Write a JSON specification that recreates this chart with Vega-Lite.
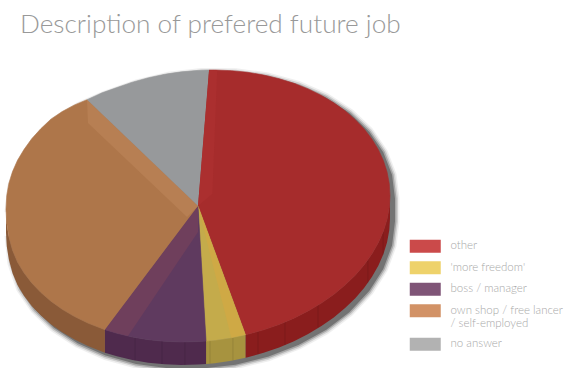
{
"$schema":"https://vega.github.io/schema/vega-lite/v6.json",
"width":569,"height":368,"padding":0,"autosize":{"type":"none"},
"background":"white",
"view":{"stroke":null},
"config":{"view":{"stroke":null}},
"title":{"text":"Description of prefered future job","anchor":"start","frame":"group","dx":20,"dy":59,"offset":0,"baseline":"alphabetic","font":"Lato","fontWeight":300,"fontSize":26.2,"color":"#999999"},
"datasets":{
"shares":[
{"slice":"other","share":45},
{"slice":"'more freedom'","share":3.5},
{"slice":"boss / manager","share":8.5},
{"slice":"own shop / free lancer\n/ self-employed","share":32},
{"slice":"no answer","share":11}
],
"outline":[
{"o":1,"u":-1,"v":-0.0257},{"o":2,"u":-0.9848,"v":0.167},{"o":3,"u":-0.9397,"v":0.3361},{"o":4,"u":-0.866,"v":0.4941},{"o":5,"u":-0.766,"v":0.6384},{"o":6,"u":-0.6428,"v":0.7435},{"o":7,"u":-0.5,"v":0.8322},{"o":8,"u":-0.342,"v":0.9105},{"o":9,"u":-0.1736,"v":0.9684},{"o":10,"u":0,"v":0.997},{"o":11,"u":0.1736,"v":0.9952},{"o":12,"u":0.342,"v":0.9633},{"o":13,"u":0.5,"v":0.902},{"o":14,"u":0.6428,"v":0.8133},{"o":15,"u":0.766,"v":0.7},{"o":16,"u":0.866,"v":0.5654},{"o":17,"u":0.9397,"v":0.4135},{"o":18,"u":0.9848,"v":0.2491},{"o":19,"u":1,"v":0.0772},
{"o":20,"u":1,"v":-0.0918},{"o":21,"u":0.9848,"v":-0.2661},{"o":22,"u":0.9397,"v":-0.4375},{"o":23,"u":0.866,"v":-0.6006},{"o":24,"u":0.766,"v":-0.7508},{"o":25,"u":0.6428,"v":-0.8831},{"o":26,"u":0.5,"v":-0.9938},{"o":27,"u":0.342,"v":-1.0795},{"o":28,"u":0.1736,"v":-1.1374},{"o":29,"u":0,"v":-1.166},{"o":30,"u":-0.1736,"v":-1.1642},{"o":31,"u":-0.342,"v":-1.1323},{"o":32,"u":-0.5,"v":-1.071},{"o":33,"u":-0.6428,"v":-0.9823},{"o":34,"u":-0.766,"v":-0.869},{"o":35,"u":-0.866,"v":-0.7344},{"o":36,"u":-0.9397,"v":-0.5825},{"o":37,"u":-0.9848,"v":-0.3961},{"o":38,"u":-1,"v":-0.1947}
],
"walls":[
{"slice":"other","o":1,"u":1,"v":0.0772,"v2":-0.0918},{"slice":"other","o":2,"u":0.9962,"v":-0.01,"v2":-0.179},{"slice":"other","o":3,"u":0.9848,"v":-0.0971,"v2":-0.2661},{"slice":"other","o":4,"u":0.9659,"v":-0.1834,"v2":-0.3524},{"slice":"other","o":5,"u":0.9397,"v":-0.2685,"v2":-0.4375},{"slice":"other","o":6,"u":0.9063,"v":-0.3513,"v2":-0.5203},{"slice":"other","o":7,"u":0.866,"v":-0.4316,"v2":-0.6006},{"slice":"other","o":8,"u":0.8192,"v":-0.5087,"v2":-0.6777},{"slice":"other","o":9,"u":0.766,"v":-0.5818,"v2":-0.7508},{"slice":"other","o":10,"u":0.7071,"v":-0.6504,"v2":-0.8194},{"slice":"other","o":11,"u":0.6428,"v":-0.7141,"v2":-0.8831},{"slice":"other","o":12,"u":0.5736,"v":-0.7724,"v2":-0.9414},{"slice":"other","o":13,"u":0.5,"v":-0.8248,"v2":-0.9938},{"slice":"other","o":14,"u":0.4226,"v":-0.871,"v2":-1.04},{"slice":"other","o":15,"u":0.342,"v":-0.9105,"v2":-1.0795},{"slice":"other","o":16,"u":0.2588,"v":-0.943,"v2":-1.112},{"slice":"other","o":17,"u":0.247,"v":-0.947,"v2":-1.116},
{"slice":"'more freedom'","o":1,"u":0.247,"v":-0.947,"v2":-1.116},{"slice":"'more freedom'","o":2,"u":0.1736,"v":-0.9684,"v2":-1.1374},{"slice":"'more freedom'","o":3,"u":0.0872,"v":-0.9865,"v2":-1.1555},{"slice":"'more freedom'","o":4,"u":0.0419,"v":-0.9929,"v2":-1.1619},
{"slice":"boss / manager","o":1,"u":0.0419,"v":-0.9929,"v2":-1.1619},{"slice":"boss / manager","o":2,"u":0,"v":-0.997,"v2":-1.166},{"slice":"boss / manager","o":3,"u":-0.0872,"v":-0.9999,"v2":-1.1689},{"slice":"boss / manager","o":4,"u":-0.1736,"v":-0.9952,"v2":-1.1642},{"slice":"boss / manager","o":5,"u":-0.2588,"v":-0.983,"v2":-1.152},{"slice":"boss / manager","o":6,"u":-0.342,"v":-0.9633,"v2":-1.1323},{"slice":"boss / manager","o":7,"u":-0.4226,"v":-0.9362,"v2":-1.1052},{"slice":"boss / manager","o":8,"u":-0.4848,"v":-0.9094,"v2":-1.0784},
{"slice":"own shop / free lancer\n/ self-employed","o":1,"u":-0.4848,"v":-0.9094,"v2":-1.0784},{"slice":"own shop / free lancer\n/ self-employed","o":2,"u":-0.5736,"v":-0.861,"v2":-1.03},{"slice":"own shop / free lancer\n/ self-employed","o":3,"u":-0.6428,"v":-0.8133,"v2":-0.9823},{"slice":"own shop / free lancer\n/ self-employed","o":4,"u":-0.7071,"v":-0.7596,"v2":-0.9286},{"slice":"own shop / free lancer\n/ self-employed","o":5,"u":-0.766,"v":-0.7,"v2":-0.869},{"slice":"own shop / free lancer\n/ self-employed","o":6,"u":-0.8192,"v":-0.6351,"v2":-0.8041},{"slice":"own shop / free lancer\n/ self-employed","o":7,"u":-0.866,"v":-0.5654,"v2":-0.7344},{"slice":"own shop / free lancer\n/ self-employed","o":8,"u":-0.9063,"v":-0.4913,"v2":-0.6603},{"slice":"own shop / free lancer\n/ self-employed","o":9,"u":-0.9397,"v":-0.4135,"v2":-0.5825},{"slice":"own shop / free lancer\n/ self-employed","o":10,"u":-0.9659,"v":-0.3252,"v2":-0.4942},{"slice":"own shop / free lancer\n/ self-employed","o":11,"u":-0.9848,"v":-0.2271,"v2":-0.3961},{"slice":"own shop / free lancer\n/ self-employed","o":12,"u":-0.9962,"v":-0.127,"v2":-0.296},{"slice":"own shop / free lancer\n/ self-employed","o":13,"u":-1,"v":-0.0257,"v2":-0.1947}
],
"faces":[
{"slice":"other","o":0,"u":0,"v":0},
{"slice":"other","o":1,"u":0.0576,"v":0.9997},{"slice":"other","o":2,"u":0.0872,"v":0.9999},{"slice":"other","o":3,"u":0.1736,"v":0.9952},{"slice":"other","o":4,"u":0.2588,"v":0.983},{"slice":"other","o":5,"u":0.342,"v":0.9633},{"slice":"other","o":6,"u":0.4226,"v":0.9362},{"slice":"other","o":7,"u":0.5,"v":0.902},{"slice":"other","o":8,"u":0.5736,"v":0.861},{"slice":"other","o":9,"u":0.6428,"v":0.8133},{"slice":"other","o":10,"u":0.7071,"v":0.7596},{"slice":"other","o":11,"u":0.766,"v":0.7},{"slice":"other","o":12,"u":0.8192,"v":0.6351},{"slice":"other","o":13,"u":0.866,"v":0.5654},{"slice":"other","o":14,"u":0.9063,"v":0.4913},{"slice":"other","o":15,"u":0.9397,"v":0.4135},{"slice":"other","o":16,"u":0.9659,"v":0.3326},{"slice":"other","o":17,"u":0.9848,"v":0.2491},{"slice":"other","o":18,"u":0.9962,"v":0.1638},{"slice":"other","o":19,"u":1,"v":0.0772},{"slice":"other","o":20,"u":0.9962,"v":-0.01},{"slice":"other","o":21,"u":0.9848,"v":-0.0971},{"slice":"other","o":22,"u":0.9659,"v":-0.1834},{"slice":"other","o":23,"u":0.9397,"v":-0.2685},{"slice":"other","o":24,"u":0.9063,"v":-0.3513},{"slice":"other","o":25,"u":0.866,"v":-0.4316},{"slice":"other","o":26,"u":0.8192,"v":-0.5087},{"slice":"other","o":27,"u":0.766,"v":-0.5818},{"slice":"other","o":28,"u":0.7071,"v":-0.6504},{"slice":"other","o":29,"u":0.6428,"v":-0.7141},{"slice":"other","o":30,"u":0.5736,"v":-0.7724},{"slice":"other","o":31,"u":0.5,"v":-0.8248},{"slice":"other","o":32,"u":0.4226,"v":-0.871},{"slice":"other","o":33,"u":0.342,"v":-0.9105},{"slice":"other","o":34,"u":0.2588,"v":-0.943},{"slice":"other","o":35,"u":0.247,"v":-0.947},
{"slice":"'more freedom'","o":0,"u":0,"v":0},
{"slice":"'more freedom'","o":1,"u":0.247,"v":-0.947},{"slice":"'more freedom'","o":2,"u":0.1736,"v":-0.9684},{"slice":"'more freedom'","o":3,"u":0.0872,"v":-0.9865},{"slice":"'more freedom'","o":4,"u":0.0419,"v":-0.9929},
{"slice":"boss / manager","o":0,"u":0,"v":0},
{"slice":"boss / manager","o":1,"u":0.0419,"v":-0.9929},{"slice":"boss / manager","o":2,"u":0,"v":-0.997},{"slice":"boss / manager","o":3,"u":-0.0872,"v":-0.9999},{"slice":"boss / manager","o":4,"u":-0.1736,"v":-0.9952},{"slice":"boss / manager","o":5,"u":-0.2588,"v":-0.983},{"slice":"boss / manager","o":6,"u":-0.342,"v":-0.9633},{"slice":"boss / manager","o":7,"u":-0.4226,"v":-0.9362},{"slice":"boss / manager","o":8,"u":-0.4848,"v":-0.9094},
{"slice":"own shop / free lancer\n/ self-employed","o":0,"u":0,"v":0},
{"slice":"own shop / free lancer\n/ self-employed","o":1,"u":-0.4848,"v":-0.9094},{"slice":"own shop / free lancer\n/ self-employed","o":2,"u":-0.5736,"v":-0.861},{"slice":"own shop / free lancer\n/ self-employed","o":3,"u":-0.6428,"v":-0.8133},{"slice":"own shop / free lancer\n/ self-employed","o":4,"u":-0.7071,"v":-0.7596},{"slice":"own shop / free lancer\n/ self-employed","o":5,"u":-0.766,"v":-0.7},{"slice":"own shop / free lancer\n/ self-employed","o":6,"u":-0.8192,"v":-0.6351},{"slice":"own shop / free lancer\n/ self-employed","o":7,"u":-0.866,"v":-0.5654},{"slice":"own shop / free lancer\n/ self-employed","o":8,"u":-0.9063,"v":-0.4913},{"slice":"own shop / free lancer\n/ self-employed","o":9,"u":-0.9397,"v":-0.4135},{"slice":"own shop / free lancer\n/ self-employed","o":10,"u":-0.9659,"v":-0.3252},{"slice":"own shop / free lancer\n/ self-employed","o":11,"u":-0.9848,"v":-0.2271},{"slice":"own shop / free lancer\n/ self-employed","o":12,"u":-0.9962,"v":-0.127},{"slice":"own shop / free lancer\n/ self-employed","o":13,"u":-1,"v":-0.0257},{"slice":"own shop / free lancer\n/ self-employed","o":14,"u":-0.9962,"v":0.0762},{"slice":"own shop / free lancer\n/ self-employed","o":15,"u":-0.9848,"v":0.167},{"slice":"own shop / free lancer\n/ self-employed","o":16,"u":-0.9659,"v":0.2533},{"slice":"own shop / free lancer\n/ self-employed","o":17,"u":-0.9397,"v":0.3361},{"slice":"own shop / free lancer\n/ self-employed","o":18,"u":-0.9063,"v":0.4153},{"slice":"own shop / free lancer\n/ self-employed","o":19,"u":-0.866,"v":0.4941},{"slice":"own shop / free lancer\n/ self-employed","o":20,"u":-0.8192,"v":0.5675},{"slice":"own shop / free lancer\n/ self-employed","o":21,"u":-0.766,"v":0.6384},{"slice":"own shop / free lancer\n/ self-employed","o":22,"u":-0.7071,"v":0.6945},{"slice":"own shop / free lancer\n/ self-employed","o":23,"u":-0.6428,"v":0.7435},{"slice":"own shop / free lancer\n/ self-employed","o":24,"u":-0.578,"v":0.782},
{"slice":"no answer","o":0,"u":0,"v":0},
{"slice":"no answer","o":1,"u":-0.578,"v":0.782},{"slice":"no answer","o":2,"u":-0.5,"v":0.8322},{"slice":"no answer","o":3,"u":-0.4226,"v":0.871},{"slice":"no answer","o":4,"u":-0.342,"v":0.9105},{"slice":"no answer","o":5,"u":-0.2588,"v":0.943},{"slice":"no answer","o":6,"u":-0.1736,"v":0.9684},{"slice":"no answer","o":7,"u":-0.0872,"v":0.9865},{"slice":"no answer","o":8,"u":0,"v":0.997},{"slice":"no answer","o":9,"u":0.0576,"v":0.9997}
],
"facets":[
{"slice":"other","o":0,"u":0,"v":0},{"slice":"other","o":1,"u":0.0576,"v":0.9997},{"slice":"other","o":2,"u":0.1,"v":0.998},{"slice":"other","o":3,"u":0.075,"v":0.09},
{"slice":"'more freedom'","o":0,"u":0,"v":0},{"slice":"'more freedom'","o":1,"u":0.247,"v":-0.947},{"slice":"'more freedom'","o":2,"u":0.1736,"v":-0.9684},
{"slice":"boss / manager","o":0,"u":0,"v":0},{"slice":"boss / manager","o":1,"u":0,"v":-0.191},{"slice":"boss / manager","o":2,"u":-0.3646,"v":-0.955},{"slice":"boss / manager","o":3,"u":-0.4226,"v":-0.9362},{"slice":"boss / manager","o":4,"u":-0.4848,"v":-0.9094},
{"slice":"own shop / free lancer\n/ self-employed","o":0,"u":0,"v":0},{"slice":"own shop / free lancer\n/ self-employed","o":1,"u":-0.578,"v":0.782},{"slice":"own shop / free lancer\n/ self-employed","o":2,"u":-0.573,"v":0.61},{"slice":"own shop / free lancer\n/ self-employed","o":3,"u":-0.0573,"v":-0.0809}
],
"seams":[
{"u":0.0625,"v":-0.99,"v2":-1.159},{"u":0.182,"v":-0.966,"v2":-1.135},{"u":0.3125,"v":-0.923,"v2":-1.092},{"u":0.453,"v":-0.854,"v2":-1.023},{"u":0.625,"v":-0.725,"v2":-0.894},{"u":0.885,"v":-0.4,"v2":-0.569},{"u":0.964,"v":-0.19,"v2":-0.359},{"u":-0.328,"v":-0.968,"v2":-1.137},{"u":-0.1875,"v":-0.993,"v2":-1.162},{"u":-0.068,"v":-1.0,"v2":-1.169}
]
},
"resolve":{"scale":{"color":"independent","fill":"independent"}},
"encoding":{
"x":{"field":"u","type":"quantitative","scale":{"domain":[-1.03125,1.93229],"nice":false,"zero":false},"axis":null},
"y":{"field":"v","type":"quantitative","scale":{"domain":[-1.1912,1.5147],"nice":false,"zero":false},"axis":null}
},
"layer":[
{"data":{"name":"outline"},"mark":{"type":"line","fill":"#000","stroke":"#000","strokeWidth":11,"strokeJoin":"round","opacity":0.06,"xOffset":4,"yOffset":3},"encoding":{"order":{"field":"o"}}},
{"data":{"name":"outline"},"mark":{"type":"line","fill":"#000","stroke":"#000","strokeWidth":8,"strokeJoin":"round","opacity":0.12,"xOffset":4,"yOffset":3},"encoding":{"order":{"field":"o"}}},
{"data":{"name":"outline"},"mark":{"type":"line","fill":"#000","stroke":"#000","strokeWidth":5,"strokeJoin":"round","opacity":0.2,"xOffset":4,"yOffset":3},"encoding":{"order":{"field":"o"}}},
{"data":{"name":"outline"},"mark":{"type":"line","fill":"#000","stroke":"#000","strokeWidth":2,"strokeJoin":"round","opacity":0.3,"xOffset":4,"yOffset":3},"encoding":{"order":{"field":"o"}}},
{"data":{"name":"walls"},
 "mark":{"type":"area"},
 "encoding":{"y2":{"field":"v2"},
  "fill":{"field":"slice","type":"nominal","legend":null,"scale":{"domain":["other","'more freedom'","boss / manager","own shop / free lancer\n/ self-employed"],"range":["#8a1d1d","#a7933f","#4f2a4d","#8a5a38"]}}}},
{"data":{"name":"seams"},"mark":{"type":"rule","color":"#000","opacity":0.1,"strokeWidth":1},"encoding":{"y2":{"field":"v2"}}},
{"data":{"name":"faces"},
 "mark":{"type":"line","strokeWidth":0.6},
 "encoding":{"order":{"field":"o"},
  "fill":{"field":"slice","type":"nominal","legend":null,"scale":{"domain":["other","'more freedom'","boss / manager","own shop / free lancer\n/ self-employed","no answer"],"range":["#a62c2c","#c4ab4b","#5f3a5f","#ae764a","#97999b"]}},
  "stroke":{"field":"slice","type":"nominal","legend":null,"scale":{"domain":["other","'more freedom'","boss / manager","own shop / free lancer\n/ self-employed","no answer"],"range":["#a62c2c","#c4ab4b","#5f3a5f","#ae764a","#97999b"]}}}},
{"data":{"name":"facets"},
 "mark":{"type":"line","strokeWidth":0},
 "encoding":{"order":{"field":"o"},
  "fill":{"field":"slice","type":"nominal","legend":null,"scale":{"domain":["other","'more freedom'","boss / manager","own shop / free lancer\n/ self-employed"],"range":["#ab2f2f","#cfa945","#6f3f5c","#b77f53"]}}}},
{"data":{"name":"shares"},
 "mark":{"type":"point","filled":true,"size":0,"opacity":0},
 "encoding":{"x":{"datum":0},"y":{"datum":0},
  "color":{"field":"slice","type":"nominal",
   "scale":{"domain":["other","'more freedom'","boss / manager","own shop / free lancer\n/ self-employed","no answer"],"range":["#cb4a4a","#eed26b","#7f5577","#d29266","#b2b2b2"]},
   "legend":{"title":null,"orient":"none","legendX":405,"legendY":240.5,"padding":0,"symbolType":"M-1,-6.5H30V6.5H-1Z","symbolSize":4,"symbolOpacity":1,"symbolStrokeWidth":0,"labelOffset":34,"labelFont":"Lato","labelFontWeight":300,"labelFontSize":11.5,"labelColor":"#a8a8a8","rowPadding":7.5,"labelLimit":200,"labelExpr":"split(datum.label,'\\n')"}}}}
]
}
